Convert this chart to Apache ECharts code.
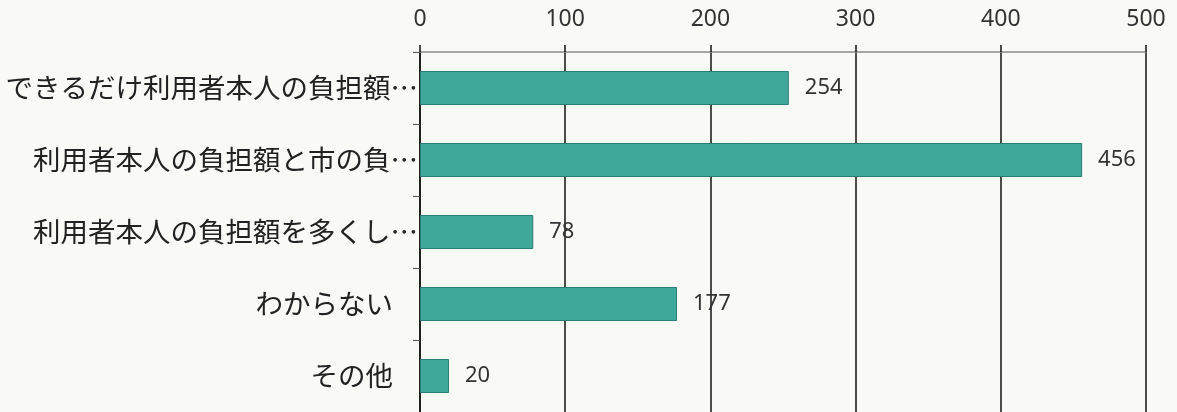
<!DOCTYPE html>
<html>
<head>
<meta charset="utf-8">
<script src="https://cdn.jsdelivr.net/npm/echarts@6/dist/echarts.min.js"></script>
<style>
  html, body { margin: 0; padding: 0; background: #f9f9f6; }
  #chart { width: 1177px; height: 412px; }
</style>
</head>
<body>
<div id="chart"></div>
<script>
const categories = [
  'できるだけ利用者本人の負担額…',
  '利用者本人の負担額と市の負…',
  '利用者本人の負担額を多くし…',
  'わからない',
  'その他'
];
const values = [254, 456, 78, 177, 20];
const xTicks = { min: 0, max: 500, interval: 100 };

const myChart = echarts.init(document.getElementById('chart'));

const option = {
  backgroundColor: '#f9f9f6',
  animation: false,
  grid: { left: 420, right: 31, top: 52, bottom: 0 },
  xAxis: {
    type: 'value',
    position: 'top',
    min: xTicks.min,
    max: xTicks.max,
    interval: xTicks.interval,
    axisLine: { show: true, lineStyle: { color: '#8a8a8a', width: 1.5 } },
    axisTick: { show: true, length: 7, lineStyle: { color: '#111', width: 1.5 } },
    axisLabel: { margin: 21, fontSize: 23, color: '#333', fontFamily: 'Noto Sans' },
    splitLine: { show: true, lineStyle: { color: '#111', width: 1.5 } }
  },
  yAxis: {
    type: 'category',
    inverse: true,
    data: categories,
    axisLine: { show: true, lineStyle: { color: '#111', width: 1.5 } },
    axisTick: { show: true, length: 7, lineStyle: { color: '#555' } },
    axisLabel: {
      margin: 2,
      fontSize: 27.5,
      color: '#222',
      fontFamily: 'Noto Sans CJK JP',
      formatter: function (v) {
        return v.endsWith('…') ? v : '{p|' + v + '}';
      },
      rich: {
        p: { fontSize: 27.5, color: '#222', fontFamily: 'Noto Sans CJK JP', padding: [0, 25, 0, 0] }
      }
    }
  },
  series: [{
    type: 'bar',
    data: values,
    barWidth: 34,
    itemStyle: { color: '#40a89a', borderColor: '#2b7d72', borderWidth: 1 },
    label: {
      show: true,
      position: 'right',
      distance: 16,
      fontSize: 22,
      color: '#333',
      fontFamily: 'Noto Sans'
    }
  }]
};

myChart.setOption(option);
</script>
</body>
</html>
